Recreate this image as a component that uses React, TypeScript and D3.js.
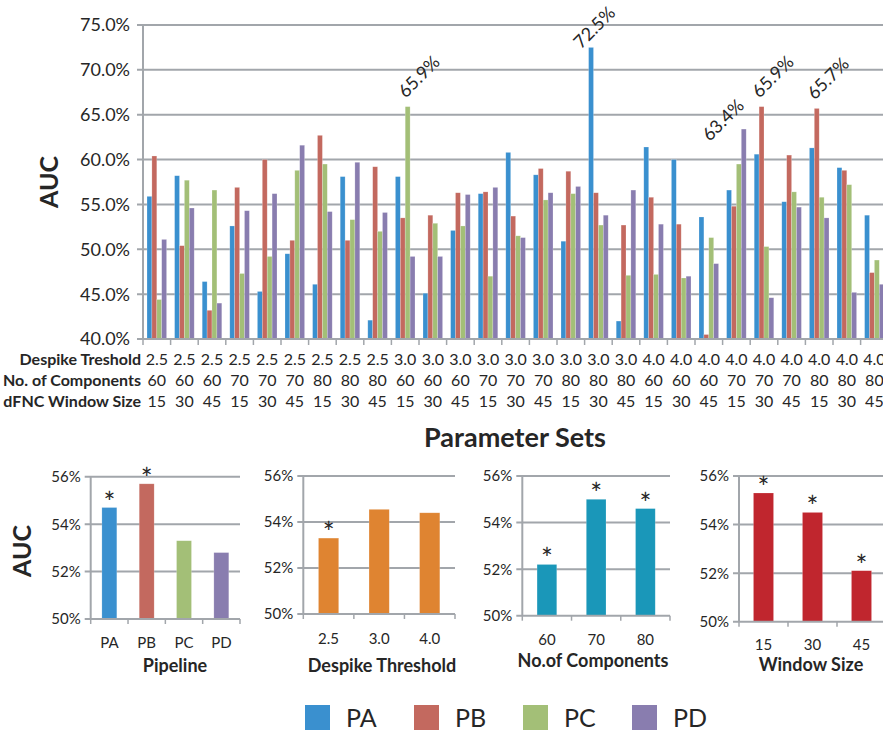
import React from "react";
import * as d3 from "d3";

// ---- Parameter-set results (AUC, %) ----
const SERIES = ["PA", "PB", "PC", "PD"];
const SERIES_COLORS = ["#3a90cf", "#c3695f", "#a3bf77", "#897daf"];

const DESPIKE = ["2.5", "2.5", "2.5", "2.5", "2.5", "2.5", "2.5", "2.5", "2.5", "3.0", "3.0", "3.0", "3.0", "3.0", "3.0", "3.0", "3.0", "3.0", "4.0", "4.0", "4.0", "4.0", "4.0", "4.0", "4.0", "4.0", "4.0"];
const COMPONENTS = ["60", "60", "60", "70", "70", "70", "80", "80", "80", "60", "60", "60", "70", "70", "70", "80", "80", "80", "60", "60", "60", "70", "70", "70", "80", "80", "80"];
const WINDOWS = ["15", "30", "45", "15", "30", "45", "15", "30", "45", "15", "30", "45", "15", "30", "45", "15", "30", "45", "15", "30", "45", "15", "30", "45", "15", "30", "45"];

const PA_AUC = [55.9, 58.2, 46.4, 52.6, 45.3, 49.5, 46.1, 58.1, 42.1, 58.1, 45.1, 52.1, 56.2, 60.8, 58.3, 50.9, 72.5, 42.0, 61.4, 60.0, 53.6, 56.6, 60.6, 55.3, 61.3, 59.1, 53.8];
const PB_AUC = [60.4, 50.4, 43.2, 56.9, 60.0, 51.0, 62.7, 51.0, 59.2, 53.5, 53.8, 56.3, 56.4, 53.7, 59.0, 58.7, 56.3, 52.7, 55.8, 52.8, 40.5, 54.8, 65.9, 60.5, 65.7, 58.8, 47.4];
const PC_AUC = [44.4, 57.7, 56.6, 47.3, 49.2, 58.8, 59.5, 53.3, 52.0, 65.9, 52.9, 52.6, 47.0, 51.5, 55.5, 56.2, 52.7, 47.1, 47.2, 46.8, 51.3, 59.5, 50.3, 56.4, 55.8, 57.2, 48.8];
const PD_AUC = [51.1, 54.6, 44.0, 54.3, 56.2, 61.6, 54.2, 59.7, 54.1, 49.2, 49.2, 56.1, 56.9, 51.3, 56.3, 57.0, 53.8, 56.6, 52.8, 47.0, 48.4, 63.4, 44.6, 54.7, 53.5, 45.2, 46.1];
const AUC_BY_SERIES = [PA_AUC, PB_AUC, PC_AUC, PD_AUC];

const MAIN_TICKS = [40, 45, 50, 55, 60, 65, 70, 75];

// Bars whose value is printed above them: [parameter set index, series index]
const PEAK_LABELS = [
  [9, 2],
  [16, 0],
  [21, 3],
  [22, 1],
  [24, 1],
];

// ---- Marginal means ----
const PIPELINE_CATS = ["PA", "PB", "PC", "PD"];
const PIPELINE_AUC = [54.7, 55.7, 53.3, 52.8];
const PIPELINE_SIG = [true, true, false, false];

const DESPIKE_CATS = ["2.5", "3.0", "4.0"];
const DESPIKE_AUC = [53.3, 54.55, 54.4];
const DESPIKE_SIG = [true, false, false];

const COMPONENT_CATS = ["60", "70", "80"];
const COMPONENT_AUC = [52.2, 55.0, 54.6];
const COMPONENT_SIG = [true, true, true];

const WINDOW_CATS = ["15", "30", "45"];
const WINDOW_AUC = [55.3, 54.5, 52.1];
const WINDOW_SIG = [true, true, true];

const SMALL_TICKS = [50, 52, 54, 56];

const FONT = "Lato, 'Open Sans', sans-serif";
const TEXT = "#262626";
const GRID = "#a2a6ab";

function MainChart() {
  const left = 143;
  const groupStep = 27.6;
  const idx = d3.range(PA_AUC.length);
  const x = d3.scaleBand<number>().domain(idx).range([left, left + groupStep * idx.length]).padding(0);
  const xs = d3
    .scaleBand<number>()
    .domain(d3.range(SERIES.length))
    .range([x.bandwidth() * 0.145, x.bandwidth() * 0.855])
    .padding(0);
  const y = d3.scaleLinear().domain([40, 75]).range([339, 25]);
  const gridRight = 883;

  const rows = [
    { title: "Despike Treshold", values: DESPIKE, base: 365 },
    { title: "No. of Components", values: COMPONENTS, base: 386 },
    { title: "dFNC Window Size", values: WINDOWS, base: 407 },
  ];

  // label offsets from the top-centre of the bar (rotated text start point)
  const labelShift = (g: number, s: number) => {
    if (g === 16 && s === 0) return [-10, 2];
    if (g === 21 && s === 3) return [-34, 13];
    return [-2, -8];
  };

  return (
    <g>
      {/* grid */}
      {MAIN_TICKS.filter((t) => t > 40).map((t) => (
        <line key={t} x1={left - 6} x2={gridRight} y1={y(t)} y2={y(t)} stroke={GRID} strokeWidth={2} />
      ))}
      {MAIN_TICKS.map((t) => (
        <text key={"l" + t} x={left - 13} y={y(t)} dy="0.36em" textAnchor="end" fontSize={18} fill={TEXT}>
          {t.toFixed(1) + "%"}
        </text>
      ))}
      {/* bars */}
      {idx.map((g) =>
        AUC_BY_SERIES.map((vals, s) => (
          <rect
            key={g + "-" + s}
            x={(x(g) as number) + (xs(s) as number)}
            y={y(vals[g])}
            width={xs.bandwidth()}
            height={y(40) - y(vals[g])}
            fill={SERIES_COLORS[s]}
            stroke="#ffffff"
            strokeOpacity={0.35}
            strokeWidth={0.6}
          />
        ))
      )}
      {/* axes */}
      <line x1={left} x2={left} y1={y(75)} y2={y(40)} stroke={GRID} strokeWidth={2} />
      <line x1={left - 6} x2={gridRight} y1={y(40)} y2={y(40)} stroke={GRID} strokeWidth={2} />
      {idx.map((g) => (
        <line key={"t" + g} x1={x(g) as number} x2={x(g) as number} y1={y(40)} y2={y(40) + 6} stroke={GRID} strokeWidth={1.5} />
      ))}
      {/* peak labels */}
      {PEAK_LABELS.map(([g, s]) => {
        const v = AUC_BY_SERIES[s][g];
        const cx = (x(g) as number) + (xs(s) as number) + xs.bandwidth() / 2;
        const [dx, dy] = labelShift(g, s);
        const px = cx + dx;
        const py = y(v) + dy;
        return (
          <text key={"p" + g + s} x={px} y={py} transform={`rotate(-45 ${px} ${py})`} fontSize={18} fill={TEXT}>
            {v.toFixed(1) + "%"}
          </text>
        );
      })}
      {/* parameter table under the axis */}
      {rows.map((r) => (
        <g key={r.title}>
          <text x={141} y={r.base} textAnchor="end" fontSize={16} fontWeight={700} fill={TEXT}>
            {r.title}
          </text>
          {r.values.map((v, g) => (
            <text key={g} x={(x(g) as number) + x.bandwidth() / 2} y={r.base} textAnchor="middle" fontSize={16} fill={TEXT}>
              {v}
            </text>
          ))}
        </g>
      ))}
      <text x={515} y={447} textAnchor="middle" fontSize={27} fontWeight={700} fill={TEXT}>
        Parameter Sets
      </text>
      <text transform="translate(58 182) rotate(-90)" textAnchor="middle" fontSize={25} fontWeight={700} fill={TEXT}>
        AUC
      </text>
    </g>
  );
}

type PanelSpec = {
  cats: string[];
  vals: number[];
  sig: boolean[];
  colors: string[];
  x0: number;
  x1: number;
  yTop: number;
  yBot: number;
  title: string;
  titleX: number;
  titleY: number;
  catY: number;
  barFrac: number;
};

function Panel({ p }: { p: PanelSpec }) {
  const x = d3.scaleBand<string>().domain(p.cats).range([p.x0, p.x1]).padding(0);
  const y = d3.scaleLinear().domain([50, 56]).range([p.yBot, p.yTop]);
  const bw = x.bandwidth() * p.barFrac;
  return (
    <g>
      {SMALL_TICKS.filter((t) => t > 50).map((t) => (
        <line key={t} x1={p.x0 - 6} x2={p.x1} y1={y(t)} y2={y(t)} stroke={GRID} strokeWidth={2} />
      ))}
      {SMALL_TICKS.map((t) => (
        <text key={"l" + t} x={p.x0 - 10} y={y(t)} dy="0.36em" textAnchor="end" fontSize={15} fill={TEXT}>
          {t + "%"}
        </text>
      ))}
      {p.cats.map((c, i) => {
        const cx = (x(c) as number) + x.bandwidth() / 2;
        return (
          <g key={c}>
            <rect x={cx - bw / 2} y={y(p.vals[i])} width={bw} height={y(50) - y(p.vals[i])} fill={p.colors[i]} stroke="#ffffff" strokeOpacity={0.3} strokeWidth={0.6} />
            {p.sig[i] && (
              <text x={cx} y={y(p.vals[i]) + 5} textAnchor="middle" fontSize={28} fill={TEXT}>
                *
              </text>
            )}
            <text x={cx} y={p.catY} textAnchor="middle" fontSize={15} fill={TEXT}>
              {c}
            </text>
          </g>
        );
      })}
      <line x1={p.x0} x2={p.x0} y1={p.yTop} y2={p.yBot} stroke={GRID} strokeWidth={2} />
      <line x1={p.x0 - 6} x2={p.x1} y1={p.yBot} y2={p.yBot} stroke={GRID} strokeWidth={2} />
      {p.cats.map((c) => (
        <line key={"t" + c} x1={x(c) as number} x2={x(c) as number} y1={p.yBot} y2={p.yBot + 5} stroke={GRID} strokeWidth={1.5} />
      ))}
      <line x1={p.x1} x2={p.x1} y1={p.yBot} y2={p.yBot + 5} stroke={GRID} strokeWidth={1.5} />
      <text x={p.titleX} y={p.titleY} textAnchor="middle" fontSize={18} fontWeight={700} fill={TEXT}>
        {p.title}
      </text>
    </g>
  );
}

export default function App() {
  const panels: PanelSpec[] = [
    {
      cats: PIPELINE_CATS, vals: PIPELINE_AUC, sig: PIPELINE_SIG, colors: SERIES_COLORS,
      x0: 90.7, x1: 240, yTop: 476.7, yBot: 619, title: "Pipeline", titleX: 175, titleY: 672, catY: 648, barFrac: 0.4,
    },
    {
      cats: DESPIKE_CATS, vals: DESPIKE_AUC, sig: DESPIKE_SIG, colors: ["#df8431", "#df8431", "#df8431"],
      x0: 303.3, x1: 455, yTop: 476, yBot: 614, title: "Despike Threshold", titleX: 382, titleY: 672, catY: 644, barFrac: 0.4,
    },
    {
      cats: COMPONENT_CATS, vals: COMPONENT_AUC, sig: COMPONENT_SIG, colors: ["#1a97b9", "#1a97b9", "#1a97b9"],
      x0: 522.3, x1: 670, yTop: 476, yBot: 615.7, title: "No.of Components", titleX: 593, titleY: 667, catY: 645, barFrac: 0.4,
    },
    {
      cats: WINDOW_CATS, vals: WINDOW_AUC, sig: WINDOW_SIG, colors: ["#c0262e", "#c0262e", "#c0262e"],
      x0: 739, x1: 886, yTop: 476, yBot: 621.7, title: "Window Size", titleX: 811, titleY: 671, catY: 650, barFrac: 0.41,
    },
  ];

  return (
    <svg
      width={883}
      height={732}
      viewBox="0 0 883 732"
      style={{ position: "absolute", left: 0, top: 0, background: "#ffffff", fontFamily: FONT }}
    >
      <rect x={0} y={0} width={883} height={732} fill="#ffffff" />
      <MainChart />
      {panels.map((p) => (
        <Panel key={p.title} p={p} />
      ))}
      <text transform="translate(31 551) rotate(-90)" textAnchor="middle" fontSize={25} fontWeight={700} fill={TEXT}>
        AUC
      </text>
      {/* legend */}
      {SERIES.map((s, i) => (
        <g key={s} transform={`translate(${305 + i * 109} 705)`}>
          <rect x={0} y={0} width={25} height={25} fill={SERIES_COLORS[i]} />
          <text x={41} y={21.5} fontSize={25} fill={TEXT}>
            {s}
          </text>
        </g>
      ))}
    </svg>
  );
}
